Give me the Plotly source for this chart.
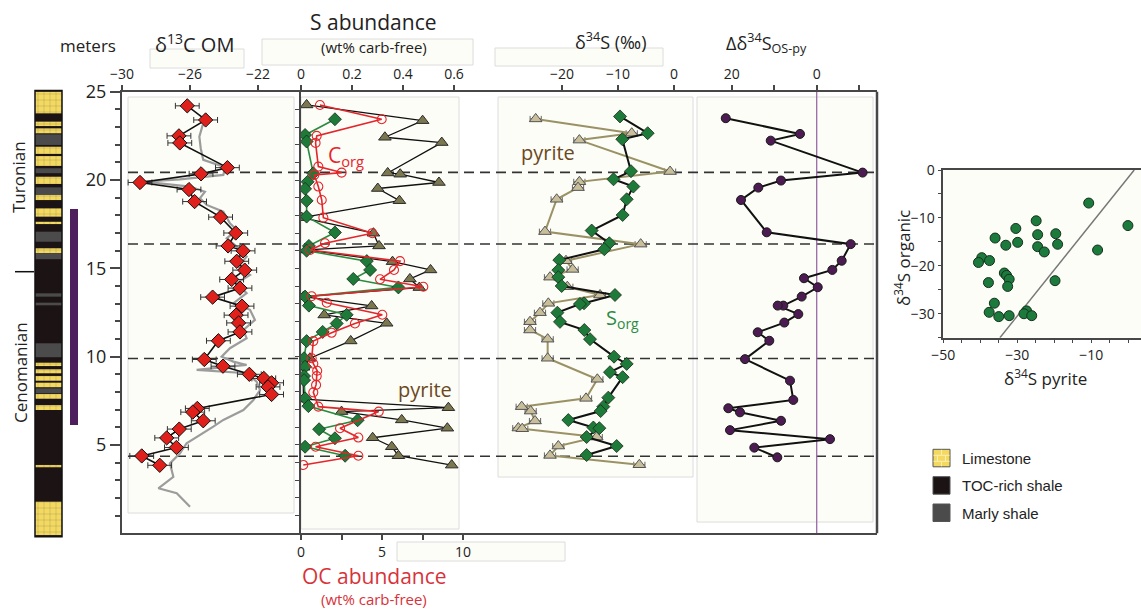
import plotly.graph_objects as go

W, H = 1141, 609
def px(x): return x / W
def py(y): return 1 - y / H

FONT = "Open Sans"

# ---------------- data ----------------
d13C_depth = [24.2, 23.4, 22.5, 22.1, 20.7, 20.35, 19.86, 19.46, 18.78, 17.9, 17.0, 16.27, 15.99, 15.4, 14.9, 14.37, 13.88, 13.37, 12.86, 12.35,
              11.91, 11.4, 10.9, 9.84, 9.46, 9.0, 8.77, 8.52, 8.29, 7.86, 7.07, 6.86, 6.37, 5.9, 5.4, 4.86, 4.38, 3.85]
d13C_val = [-26.16, -25.08, -26.65, -26.6, -23.8, -25.35, -28.94, -26.06, -25.73, -24.2, -23.31, -23.76, -22.88, -23.25, -22.78, -23.55, -23.06, -24.67, -22.94, -23.29,
            -23.14, -23.06, -24.33, -25.16, -24.06, -22.51, -21.66, -21.2, -21.41, -21.2, -25.57, -25.84, -25.22, -26.63, -27.37, -26.8, -28.84, -27.78]
d13C_err = 0.7

gray_depth = [23.12, 22.46, 21.8, 21.14, 20.72, 20.29, 20.04, 19.91, 19.63, 19.34, 18.97, 18.59, 18.21, 17.55, 17.17, 16.7, 16.23, 15.66, 15.1, 14.63,
              14.16, 13.59, 13.02, 12.65, 12.08, 11.51, 11.04, 10.48, 10.0, 9.72, 9.53, 9.25, 9.06, 8.59, 8.11, 7.55, 6.98, 6.42, 6.04, 5.47,
              5.1, 4.53, 3.96, 3.2, 2.55, 2.27, 1.5]
gray_val = [-25.25, -25.45, -25.37, -25.22, -23.94, -24.04, -26.59, -28.75, -26.0, -25.12, -25.41, -25.02, -24.04, -23.65, -23.25, -23.84, -23.25, -22.67, -23.16, -22.47,
            -23.25, -22.67, -23.45, -22.47, -22.18, -22.86, -22.67, -23.65, -24.14, -23.45, -22.67, -25.61, -22.67, -22.08, -21.88, -22.27, -22.86, -24.04, -24.63, -25.61,
            -26.2, -26.59, -27.18, -26.98, -27.86, -26.78, -26.0]

pyS_depth = [24.25, 23.36, 22.42, 22.12, 20.4, 20.33, 19.86, 19.52, 18.83, 17.87, 16.99, 16.27, 16.04, 15.38, 14.91, 14.4, 13.91, 13.4, 12.87, 12.36,
             11.89, 10.89, 9.91, 9.4, 8.8, 7.6, 7.11, 6.89, 6.42, 5.95, 5.41, 4.9, 4.39, 3.86]
pyS_val = [0.022, 0.477, 0.329, 0.552, 0.34, 0.389, 0.541, 0.301, 0.386, 0.003, 0.284, 0.306, 0.022, 0.359, 0.508, 0.427, 0.464, 0.01, 0.277, 0.091,
           0.336, 0.195, 0.035, 0.01, 0.008, 0.01, 0.578, 0.159, 0.395, 0.574, 0.281, 0.356, 0.382, 0.591]

sorgS_depth = [23.44, 22.55, 22.18, 20.38, 19.9, 19.5, 18.82, 17.93, 17.03, 16.27, 16.0, 15.41, 14.91, 14.4, 13.92, 13.4, 12.89, 12.37, 11.88, 11.4,
               10.88, 9.91, 9.43, 8.9, 8.67, 7.64, 7.2, 6.4, 5.89, 5.38, 4.9, 4.39]
sorgS_val = [0.133, 0.016, 0.022, 0.048, 0.026, 0.016, 0.022, 0.022, 0.133, 0.031, 0.022, 0.258, 0.271, 0.205, 0.382, 0.016, 0.031, 0.179, 0.14, 0.085,
             0.022, 0.012, 0.016, 0.012, 0.012, 0.016, 0.029, 0.222, 0.071, 0.133, 0.016, 0.173]

oc_depth = [24.25, 23.44, 22.5, 22.1, 20.76, 20.42, 20.29, 19.63, 18.87, 17.87, 16.99, 16.42, 16.04, 15.41, 14.91, 14.38, 13.96, 13.42, 13.05, 12.37,
            11.88, 11.35, 10.88, 9.91, 9.6, 9.2, 8.9, 8.4, 7.98, 7.17, 6.89, 5.95, 5.42, 4.9, 4.39, 3.87]
oc_val = [1.17, 4.98, 0.97, 0.9, 1.07, 2.51, 0.82, 1.07, 1.28, 1.38, 4.4, 1.48, 0.56, 6.11, 5.74, 4.88, 7.55, 0.66, 1.59, 5.02,
          3.33, 1.89, 0.76, 0.66, 0.76, 1.0, 0.97, 0.93, 0.76, 1.07, 4.8, 2.41, 3.54, 0.9, 3.54, 0.14]

pyd_depth = [23.46, 22.65, 22.26, 20.48, 19.9, 19.57, 18.91, 17.08, 16.37, 15.43, 14.94, 14.5, 13.96, 13.49, 13.02, 12.49, 11.98, 11.51, 10.99, 9.91,
             8.72, 7.64, 7.17, 6.92, 6.36, 5.96, 5.92, 5.45, 4.94, 4.41, 3.88]
pyd_val = [-24.7, -7.55, -16.9, -0.7, -16.9, -17.14, -20.95, -23.04, -5.95, -19.29, -18.1, -22.14, -19.05, -13.21, -22.44, -23.93, -25.71, -25.71, -22.56, -22.56,
           -13.69, -15.71, -27.2, -25.6, -24.82, -27.8, -27.1, -13.8, -20.66, -22.14, -6.19]
pyd_err = 1.0

sod_depth = [23.6, 22.65, 22.31, 20.5, 20.04, 19.63, 18.91, 18.02, 17.14, 16.42, 16.08, 15.47, 14.9, 14.5, 14.0, 13.49, 13.02, 12.98, 12.49, 11.97,
             11.51, 10.99, 10.0, 9.59, 9.12, 8.84, 7.68, 7.17, 6.92, 6.41, 5.99, 5.95, 5.45, 4.94, 4.43]
sod_val = [-9.64, -4.7, -9.23, -7.68, -10.8, -7.26, -8.45, -9.17, -14.7, -11.55, -12.44, -20.48, -20.66, -20.66, -20.06, -10.54, -16.07, -16.8, -20.83, -20.36,
           -16.01, -15.0, -10.71, -8.45, -11.43, -9.17, -11.73, -12.62, -13.1, -18.87, -14.4, -13.33, -15.6, -10.24, -15.6]

dd_depth = [23.5, 22.61, 22.23, 20.42, 19.97, 19.57, 18.87, 17.04, 16.37, 15.43, 14.91, 14.44, 13.93, 13.4, 12.89, 12.89, 12.41, 11.93, 11.38, 10.9,
            9.86, 8.64, 7.55, 7.08, 6.85, 6.37, 5.84, 5.33, 4.85, 4.3]
dd_val = [21.4, 3.93, 10.82, -10.8, 8.4, 13.74, 17.81, 11.76, -8.0, -5.88, -3.67, 2.99, -0.24, 3.53, 7.86, 9.18, 4.33, 7.62, 13.88, 11.15,
          16.87, 6.28, 5.51, 20.8, 18.05, 8.4, 20.4, -3.13, 14.68, 9.27]

sc_py = [-10.7, -0.1, -8.3, -24.9, -30.4, -24.5, -19.6, -36.0, -29.9, -33.1, -24.5, -19.1, -22.7, -39.6, -40.5, -37.5, -33.5, -32.9, -32.2, -37.8,
         -32.6, -19.8, -36.2, -37.6, -35.0, -32.2, -27.5, -28.2, -26.1]
sc_org = [-6.9, -11.6, -16.7, -10.6, -12.2, -13.5, -13.3, -14.2, -15.1, -15.7, -16.0, -15.5, -17.1, -18.3, -19.3, -18.9, -21.5, -22.0, -22.8, -23.5,
          -24.3, -23.1, -27.8, -29.7, -30.6, -30.4, -29.4, -30.0, -30.4]
ref_line_x = [-34.7, 1.6]
ref_line_y = [-35, 0]

litho_base = [-0.19, 23.78, 23.06, 22.65, 21.99, 21.48, 20.8, 20.39, 19.78, 19.16, 18.87, 17.93, 17.51, 16.51, 15.86, 15.52, 13.4, 12.91, 9.97, 9.47,
              9.06, 8.64, 8.27, 7.93, 7.62, 6.98, 3.74, -0.1]
litho_top = [25.08, 25.0, 23.31, 22.93, 22.59, 21.89, 21.36, 20.67, 20.19, 19.59, 19.16, 18.4, 17.64, 17.08, 16.14, 15.86, 13.59, 13.06, 10.76, 9.66,
             9.29, 8.91, 8.53, 8.21, 7.89, 7.26, 3.87, 1.79]
litho_type = ['TOC-rich shale', 'Limestone', 'Limestone', 'Limestone', 'Marly shale', 'Limestone', 'Limestone', 'Marly shale', 'Limestone', 'Marly shale',
              'Limestone', 'Limestone', 'Limestone', 'Marly shale', 'Limestone', 'Marly shale', 'Marly shale', 'Marly shale', 'Marly shale', 'Limestone',
              'Limestone', 'Limestone', 'Limestone', 'Marly shale', 'Limestone', 'Limestone', 'Limestone', 'Limestone']
litho_names = ['Limestone', 'TOC-rich shale', 'Marly shale']
litho_colors = {'Limestone': '#f4d961', 'TOC-rich shale': '#1c1314', 'Marly shale': '#4b4b4b'}

purple_interval = [6.13, 18.36]
stage_boundary = 14.81
stage_names = ['Turonian', 'Cenomanian']
dashed_depths = [20.43, 16.38, 9.9, 4.36]

d13C_ticks = [-30, -26, -22]
S_ticks = [0, 0.2, 0.4, 0.6]
S_ticktext = ['0', '0.2', '0.4', '0.6']
OC_ticks = [0, 5, 10]
OC_minor = [2.5, 7.5]
d34S_ticks = [-20, -10, 0]
dd_ticks = [20, 0]
dd_minor = [10, -10]
depth_ticks = [5, 10, 15, 20, 25]
depth_minor = list(range(1, 26))
sc_x_ticks = [-50, -30, -10]
sc_x_minor = list(range(-45, 1, 5))
sc_y_ticks = [0, -10, -20, -30]
sc_y_minor = list(range(-35, 1, 5))

# ---------------- figure ----------------
fig = go.Figure()

AX = '#474747'
fig.add_trace(go.Bar(
    x=[0] * len(litho_base), base=litho_base,
    y=[t - b for t, b in zip(litho_top, litho_base)],
    width=1, xaxis='x6', yaxis='y3', showlegend=False, hoverinfo='skip',
    marker=dict(color=[litho_colors[t] for t in litho_type], line=dict(width=0),
                pattern=dict(shape=['+' if t == 'Limestone' else '' for t in litho_type],
                             fillmode='overlay', fgcolor='#fff4c0', size=6, solidity=0.12))))

fig.add_trace(go.Scatter(x=gray_val, y=gray_depth, mode='lines', xaxis='x', yaxis='y',
                         line=dict(color='#9c9c9c', width=2.2), showlegend=False))
fig.add_trace(go.Scatter(x=d13C_val, y=d13C_depth, mode='lines+markers', xaxis='x', yaxis='y',
                         line=dict(color='#111', width=1.6),
                         marker=dict(symbol='diamond', size=11, color='#e0201b', line=dict(color='#111', width=1)),
                         error_x=dict(type='constant', value=d13C_err, color='#333', thickness=1, width=3),
                         showlegend=False))

fig.add_trace(go.Scatter(x=pyS_val, y=pyS_depth, mode='lines+markers', xaxis='x2', yaxis='y',
                         line=dict(color='#111', width=1.3),
                         marker=dict(symbol='triangle-up', size=11, color='#7b7850', line=dict(color='#2a2a2a', width=1)),
                         showlegend=False))
fig.add_trace(go.Scatter(x=oc_val, y=oc_depth, mode='lines+markers', xaxis='x3', yaxis='y',
                         line=dict(color='#e3262b', width=1.6),
                         marker=dict(symbol='circle-open', size=9, color='#e3262b', line=dict(width=1.1)),
                         showlegend=False))
fig.add_trace(go.Scatter(x=sorgS_val, y=sorgS_depth, mode='lines+markers', xaxis='x2', yaxis='y',
                         line=dict(color='#2a8a3f', width=1.6),
                         marker=dict(symbol='diamond', size=10, color='#1d7a39', line=dict(color='#1a2a1a', width=0.8)),
                         showlegend=False))

fig.add_trace(go.Scatter(x=pyd_val, y=pyd_depth, mode='lines+markers', xaxis='x4', yaxis='y',
                         line=dict(color='#9a9265', width=2),
                         marker=dict(symbol='triangle-up', size=11, color='#c8be9a', line=dict(color='#555', width=1)),
                         error_x=dict(type='constant', value=pyd_err, color='#666', thickness=1, width=3),
                         showlegend=False))
fig.add_trace(go.Scatter(x=sod_val, y=sod_depth, mode='lines+markers', xaxis='x4', yaxis='y',
                         line=dict(color='#111', width=2),
                         marker=dict(symbol='diamond', size=10, color='#1d7a39', line=dict(color='#1a2a1a', width=0.8)),
                         showlegend=False))

fig.add_trace(go.Scatter(x=dd_val, y=dd_depth, mode='lines+markers', xaxis='x5', yaxis='y',
                         line=dict(color='#111', width=2),
                         marker=dict(symbol='circle', size=9, color='#4b1b52', line=dict(color='#1a1a1a', width=1)),
                         showlegend=False))

fig.add_trace(go.Scatter(x=ref_line_x, y=ref_line_y, mode='lines', xaxis='x7', yaxis='y2',
                         line=dict(color='#777', width=1.5), showlegend=False))
fig.add_trace(go.Scatter(x=sc_py, y=sc_org, mode='markers', xaxis='x7', yaxis='y2',
                         marker=dict(symbol='circle', size=10, color='#1c7a3c', line=dict(color='#16301e', width=1)),
                         showlegend=False))
fig.add_trace(go.Scatter(x=[None], y=[None], xaxis='x2', yaxis='y4', showlegend=False))

tickfont = dict(family=FONT, size=14, color='#222')
base_ax = dict(showgrid=False, zeroline=False, showline=True, linecolor=AX, automargin=False,
               ticks='outside', tickcolor=AX, tickfont=tickfont)
common_x = dict(base_ax, linewidth=2, ticklen=5, tickwidth=1.5)
minor_x = dict(ticks='outside', ticklen=5, tickcolor=AX, tickwidth=1.5)
minor_sc = dict(ticks='outside', ticklen=4, tickcolor=AX)

xd = (-30, -30 + 179 / 17)
layout = dict(
    template='none',
    width=W, height=H, autosize=False,
    margin=dict(l=0, r=0, t=0, b=0, pad=0, autoexpand=False),
    paper_bgcolor='white', plot_bgcolor='rgba(0,0,0,0)',
    font=dict(family=FONT, color='#222'),
    barmode='overlay', showlegend=False,
    xaxis=dict(domain=[px(122), px(301)], range=list(xd), anchor='y', side='top',
               tickmode='array', tickvals=d13C_ticks, mirror=True, **common_x),
    xaxis2=dict(domain=[px(301), px(497)], range=[0, 196 / 255], anchor='y', side='top',
                tickmode='array', tickvals=S_ticks, ticktext=S_ticktext, **common_x),
    xaxis3=dict(overlaying='x2', range=[0, 196 / 16.2], anchor='y', side='bottom',
                tickmode='array', tickvals=OC_ticks, minor=dict(minor_x, tickmode='array', tickvals=OC_minor), **common_x),
    xaxis4=dict(domain=[px(497), px(697)], range=[(497 - 674) / 5.6, (697 - 674) / 5.6], anchor='y', side='top',
                tickmode='array', tickvals=d34S_ticks, mirror=True, **common_x),
    xaxis5=dict(domain=[px(697), px(877)], range=[(816.7 - 697) / 4.25, (816.7 - 877) / 4.25], anchor='y', side='top',
                tickmode='array', tickvals=dd_ticks, minor=dict(minor_x, tickmode='array', tickvals=dd_minor),
                mirror=True, **common_x),
    xaxis6=dict(domain=[px(35), px(62)], range=[-0.5, 0.5], anchor='y3', visible=False, fixedrange=True, automargin=False),
    xaxis7=dict(domain=[px(943.3), 1.0], range=[-50, -50 + (W - 943.3) / 3.7], anchor='y2',
                tickmode='array', tickvals=sc_x_ticks, minor=dict(minor_sc, tickmode='array', tickvals=sc_x_minor),
                mirror=True, linewidth=1.5, ticklen=4, **base_ax),
    yaxis=dict(domain=[py(533.3), py(91.7)], range=[0, 25], anchor='x', side='left',
               tickmode='array', tickvals=depth_ticks, ticklen=10, tickwidth=1.5,
               minor=dict(tickmode='array', tickvals=depth_minor, ticks='outside', ticklen=5, tickcolor=AX),
               linewidth=2, **dict(base_ax, tickfont=dict(family=FONT, size=18, color='#222'))),
    yaxis4=dict(overlaying='y', anchor='x2', side='left', range=[0, 25],
                tickmode='array', tickvals=list(range(0, 26)), ticklen=4,
                showticklabels=False, linewidth=1.5, **base_ax),
    yaxis3=dict(domain=[py(540), py(85)], range=[(533.3 - 540) / 17.66, (533.3 - 85) / 17.66],
                anchor='x6', visible=False, fixedrange=True, automargin=False),
    yaxis2=dict(domain=[py(337.7), py(170)], range=[-35, 0], anchor='x7',
                tickmode='array', tickvals=sc_y_ticks, minor=dict(minor_sc, tickmode='array', tickvals=sc_y_minor),
                mirror=True, linewidth=1.5, ticklen=4, **base_ax),
)
fig.update_layout(**layout)

shapes = []
def rect(x0, y0, x1, y1, fill='#fdfdf7', line='#dcdcdc', lw=1, layer='below'):
    shapes.append(dict(type='rect', xref='paper', yref='paper', x0=px(x0), x1=px(x1), y0=py(y1), y1=py(y0),
                       fillcolor=fill, line=dict(color=line, width=lw), layer=layer))

rect(128, 97, 294, 513)
rect(301, 97, 459, 529)
rect(498, 97, 693, 477)
rect(697, 97, 873, 522)
rect(943.3, 170, 1141, 337.7, line='rgba(0,0,0,0)')
rect(150, 49, 244, 68)
rect(262, 39, 473, 65)
rect(495, 48, 663, 66)
rect(397, 542, 565, 561)

for d in dashed_depths:
    shapes.append(dict(type='line', xref='paper', yref='y', x0=px(128), x1=px(877), y0=d, y1=d,
                       line=dict(color='#333', width=1.6, dash='10px,6px'), layer='below'))
shapes.append(dict(type='line', xref='x5', yref='paper', x0=0, x1=0, y0=py(533.3), y1=py(91.7),
                   line=dict(color='#9a6aa6', width=1.3), layer='below'))
shapes.append(dict(type='line', xref='paper', yref='paper', x0=px(877), x1=px(877), y0=py(533.3), y1=py(91.7),
                   line=dict(color=AX, width=2.5)))
shapes.append(dict(type='rect', xref='paper', yref='y3', x0=px(35), x1=px(62), y0=litho_base[0], y1=litho_top[0],
                   line=dict(color='#111', width=1.5), fillcolor='rgba(0,0,0,0)'))
shapes.append(dict(type='rect', xref='paper', yref='y', x0=px(70), x1=px(78), y0=purple_interval[0], y1=purple_interval[1],
                   line=dict(width=0), fillcolor='#4d1f5c'))
shapes.append(dict(type='line', xref='paper', yref='y', x0=px(15), x1=px(34), y0=stage_boundary, y1=stage_boundary,
                   line=dict(color='#111', width=1.5)))

leg_y = [449.3, 476.7, 504]
for name, y0 in zip(litho_names, leg_y):
    shapes.append(dict(type='rect', xref='paper', yref='paper', x0=px(933), x1=px(950), y0=py(y0 + 17.5), y1=py(y0),
                       fillcolor=litho_colors[name], line=dict(color='#555', width=1)))
for yy in (455.3, 461.3):
    shapes.append(dict(type='line', xref='paper', yref='paper', x0=px(933.5), x1=px(949.5), y0=py(yy), y1=py(yy),
                       line=dict(color='#fbeeb0', width=1)))
for xx, ya, yb in ((941.5, 449.8, 455.3), (937.5, 455.3, 461.3), (945.5, 455.3, 461.3), (941.5, 461.3, 466.3)):
    shapes.append(dict(type='line', xref='paper', yref='paper', x0=px(xx), x1=px(xx), y0=py(yb), y1=py(ya),
                       line=dict(color='#fbeeb0', width=1)))

fig.update_layout(shapes=shapes)

ann = []
def text(t, x, y, size, color='#222', xanchor='center', angle=0, family=FONT):
    ann.append(dict(text=t, x=px(x), y=py(y), xref='paper', yref='paper', showarrow=False,
                    xanchor=xanchor, yanchor='middle', textangle=angle,
                    font=dict(family=family, size=size, color=color)))

text('meters', 88, 45, 17)
text('δ<sup>13</sup>C OM', 194, 43, 20)
text('S abundance', 373, 22, 21)
text('(wt% carb-free)', 374, 47, 15)
text('δ<sup>34</sup>S (‰)', 610, 41, 18)
text('Δδ<sup>34</sup>S<sub>OS-py</sub>', 766, 43, 18)
text('OC abundance', 374, 576, 21, color='#d7333a')
text('(wt% carb-free)', 374, 599, 15, color='#d7333a')
text('C<sub>org</sub>', 326, 156, 21, color='#e8252c', xanchor='left')
text('pyrite', 425, 389, 20, color='#6b4822')
text('pyrite', 548, 152, 20, color='#6b4822')
text('S<sub>org</sub>', 604, 318, 20, color='#2e8b45', xanchor='left')
text(stage_names[0], 18, 177, 17, angle=-90)
text(stage_names[1], 20, 373, 17, angle=-90)
text('δ<sup>34</sup>S organic', 903, 258, 17, angle=-90)
text('δ<sup>34</sup>S pyrite', 1045, 377, 17)
for name, y0 in zip(litho_names, leg_y):
    text(name, 960, y0 + 9, 15, xanchor='left', family='Liberation Sans, Arial')

fig.update_layout(annotations=ann)

post = """
document.documentElement.style.margin='0';
document.documentElement.style.overflow='hidden';
document.body.style.margin='0';
document.body.style.overflow='hidden';
"""
fig.write_html("out.html", config={'displayModeBar': False, 'responsive': False},
               post_script=post)
